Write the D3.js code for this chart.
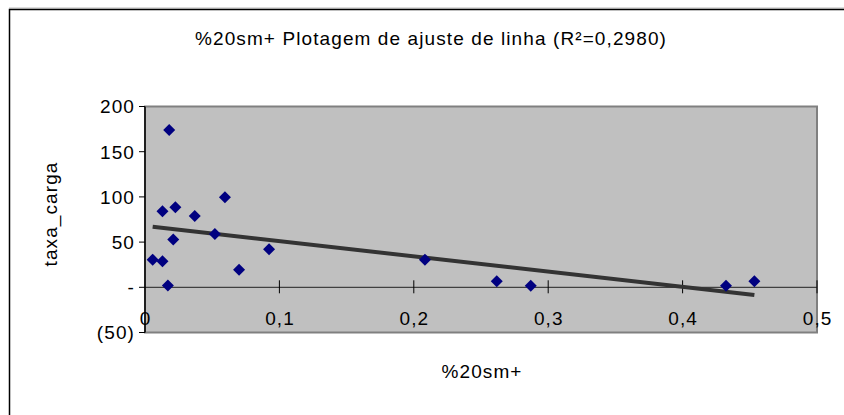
<!DOCTYPE html>
<html>
<head>
<meta charset="utf-8">
<script src="https://cdn.jsdelivr.net/npm/d3@7"></script>
<style>
  body { margin: 0; background: #fff; }
  svg text { font-family: "Liberation Sans", Arial, sans-serif; fill: #000; font-size: 19px; letter-spacing: 1.1px; }
</style>
</head>
<body>
<div id="chart"></div>
<script>
// %20sm+ values (x) and taxa_carga values (y)
const xValues = [0.0057, 0.013, 0.017, 0.018, 0.013, 0.0226, 0.021, 0.037, 0.052, 0.0595, 0.070, 0.0923, 0.2083, 0.2617, 0.287, 0.4323, 0.4534];
const yValues = [30.6, 28.7, 2, 174, 84, 88.5, 53, 79, 59, 99.5, 19.5, 42, 30.6, 6.6, 1.8, 1.8, 6.6];
const xTicks = [0, 0.1, 0.2, 0.3, 0.4, 0.5];
const yTicks = [200, 150, 100, 50, 0, -50];

const title = "%20sm+ Plotagem de ajuste de linha (R²=0,2980)";
const xLabel = "%20sm+";
const yLabel = "taxa_carga";

var w = 844, h = 415;
var pLeft = 145, pRight = 817, pTop = 106.5, pBottom = 332.5;

var svg = d3.select("#chart")
  .append("svg")
  .attr("width", w)
  .attr("height", h);

// outer frame
svg.append("line").attr("x1", 9).attr("x2", w).attr("y1", 8).attr("y2", 8)
  .attr("stroke", "#bbb").attr("stroke-width", 1);
svg.append("path")
  .attr("d", "M9.5," + h + "V9.5H" + w)
  .attr("fill", "none")
  .attr("stroke", "#000")
  .attr("stroke-width", 1.5);

var x = d3.scaleLinear().domain([0, 0.5]).range([pLeft, pRight]);
var y = d3.scaleLinear().domain([-50, 200]).range([pBottom, pTop]);

// plot area
svg.append("rect")
  .attr("x", pLeft).attr("y", pTop)
  .attr("width", pRight - pLeft).attr("height", pBottom - pTop)
  .attr("fill", "#c0c0c0")
  .attr("stroke", "#808080")
  .attr("stroke-width", 2);

var fmt = function(v){ return String(v).replace(".", ","); };

// x axis on y = 0
var xAxis = svg.append("g")
  .attr("transform", "translate(0," + y(0) + ")");
xAxis.append("line")
  .attr("x1", pLeft).attr("x2", pRight)
  .attr("stroke", "#404040").attr("stroke-width", 1.2);
xAxis.selectAll(".xt")
  .data(xTicks.slice(1))
  .enter()
  .append("line")
  .attr("x1", d => x(d)).attr("x2", d => x(d))
  .attr("y1", -7).attr("y2", 6)
  .attr("stroke", "#000").attr("stroke-width", 1);
xAxis.selectAll(".xl")
  .data(xTicks)
  .enter()
  .append("text")
  .attr("x", d => x(d) + 0.6)
  .attr("y", 38)
  .attr("text-anchor", "middle")
  .text(d => fmt(d));

// y axis
var yAxis = svg.append("g");
yAxis.append("line")
  .attr("x1", pLeft).attr("x2", pLeft)
  .attr("y1", pTop).attr("y2", pBottom)
  .attr("stroke", "#000").attr("stroke-width", 1.5);
yAxis.selectAll(".yt")
  .data(yTicks)
  .enter()
  .append("line")
  .attr("x1", pLeft - 6).attr("x2", pLeft)
  .attr("y1", d => y(d)).attr("y2", d => y(d))
  .attr("stroke", "#000").attr("stroke-width", 1);
yAxis.selectAll(".yl")
  .data(yTicks)
  .enter()
  .append("text")
  .attr("x", 135)
  .attr("y", d => y(d))
  .attr("dy", "0.36em")
  .attr("text-anchor", "end")
  .text(function(d){
    if (d === 0) return "-";
    if (d < 0) return "(" + Math.abs(d) + ")";
    return d;
  });

// least squares fit line
var n = xValues.length;
var mx = d3.mean(xValues), my = d3.mean(yValues);
var sxy = 0, sxx = 0;
for (var i = 0; i < n; i++) {
  sxy += (xValues[i] - mx) * (yValues[i] - my);
  sxx += (xValues[i] - mx) * (xValues[i] - mx);
}
var slope = sxy / sxx, icpt = my - slope * mx;
var x0 = d3.min(xValues), x1 = d3.max(xValues);

svg.append("line")
  .attr("x1", x(x0)).attr("y1", y(icpt + slope * x0))
  .attr("x2", x(x1)).attr("y2", y(icpt + slope * x1))
  .attr("stroke", "#333333")
  .attr("stroke-width", 4);

// points
var pts = xValues.map((d, i) => ({x: d, y: yValues[i]}));
svg.selectAll(".pt")
  .data(pts)
  .enter()
  .append("path")
  .attr("d", d3.symbol().type(d3.symbolSquare).size(72))
  .attr("transform", d => "translate(" + x(d.x) + "," + y(d.y) + ") rotate(45)")
  .attr("fill", "#000080");

// titles
svg.append("text")
  .attr("x", 431).attr("y", 45)
  .attr("text-anchor", "middle")
  .text(title);

svg.append("text")
  .attr("x", 482).attr("y", 378)
  .attr("text-anchor", "middle")
  .text(xLabel);

svg.append("text")
  .attr("transform", "translate(57,214) rotate(-90)")
  .attr("text-anchor", "middle")
  .text(yLabel);
</script>
</body>
</html>
